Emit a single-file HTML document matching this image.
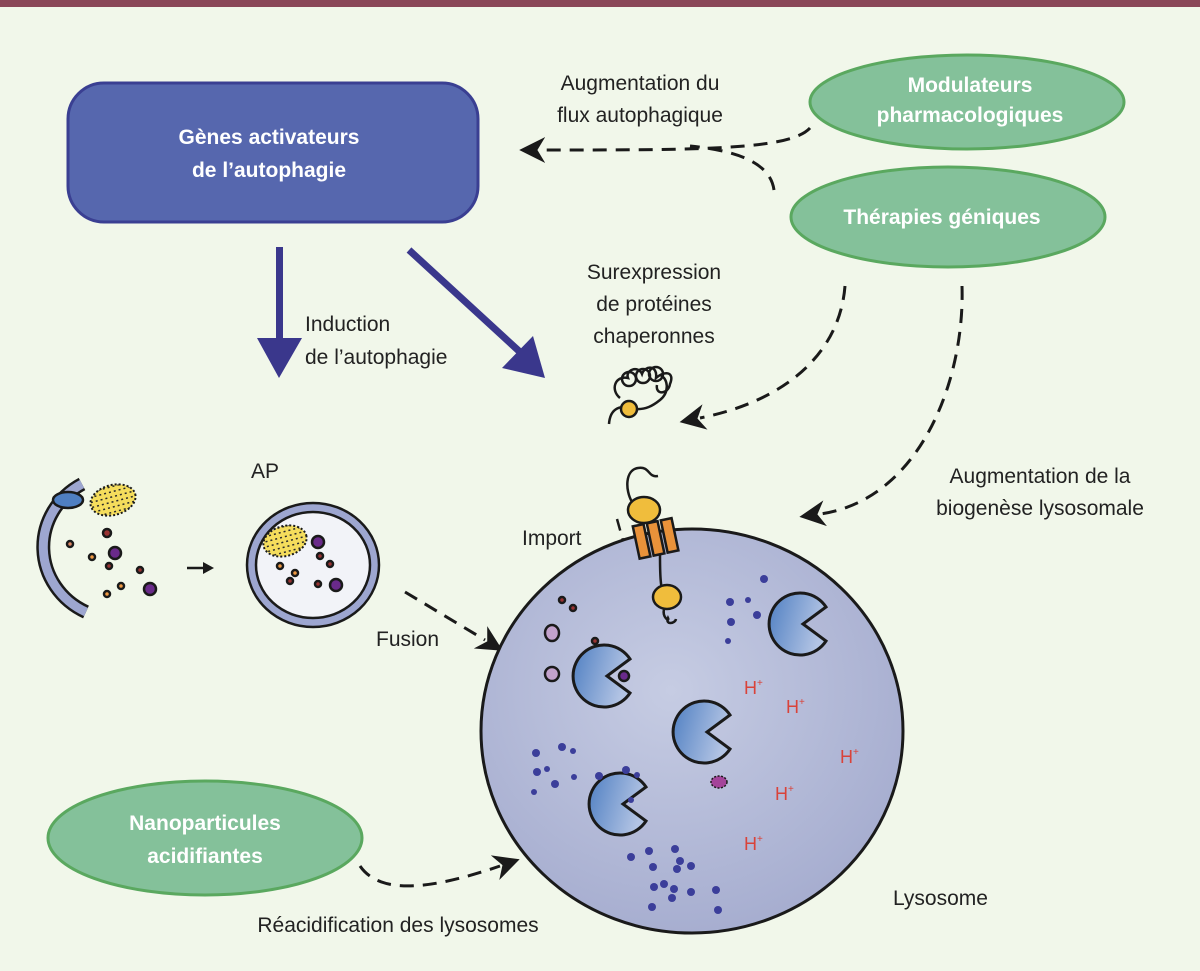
<!DOCTYPE html>
<html><head><meta charset="utf-8"><style>
html,body{margin:0;padding:0;background:#f1f7ea;}
svg{display:block}
text{font-family:"Liberation Sans",sans-serif;}
</style></head><body>
<svg width="1200" height="971" viewBox="0 0 1200 971" xmlns="http://www.w3.org/2000/svg">
<defs>
<radialGradient id="lys" cx="0.45" cy="0.4" r="0.6">
<stop offset="0" stop-color="#c6cce3"/><stop offset="1" stop-color="#a7aed0"/>
</radialGradient>
<linearGradient id="pac" x1="0" y1="0" x2="1" y2="0.3">
<stop offset="0" stop-color="#4f7fc2"/><stop offset="1" stop-color="#b3c4e4"/>
</linearGradient>
<g id="pm"><path d="M26,-17 A31,31 0 1 0 26,17 L3,0 Z" fill="url(#pac)" stroke="#1a1a1a" stroke-width="3" stroke-linejoin="miter"/></g>
<marker id="ahb" viewBox="0 0 10 10" refX="2" refY="5" markerWidth="26" markerHeight="26" orient="auto" markerUnits="userSpaceOnUse">
<path d="M0,0 L10,5 L0,10 L3,5 Z" fill="#1a1a1a"/></marker>
<pattern id="spk" width="5" height="5" patternUnits="userSpaceOnUse">
<rect width="5" height="5" fill="#f5dd5c"/><rect x="1" y="1" width="2" height="1.5" fill="#2a2a2a"/>
</pattern>
</defs>
<rect x="0" y="0" width="1200" height="7" fill="#8a4758"/>

<!-- Box -->
<rect x="68" y="83" width="410" height="139" rx="36" fill="#5667ae" stroke="#3a3f92" stroke-width="3"/>
<text x="269" y="144" font-size="21" font-weight="bold" fill="#fff" text-anchor="middle">Gènes activateurs</text>
<text x="269" y="177" font-size="21" font-weight="bold" fill="#fff" text-anchor="middle">de l’autophagie</text>

<!-- blue arrows -->
<rect x="276" y="247" width="7" height="95" fill="#3a378c"/>
<path d="M257,338 L302,338 L279,378 Z" fill="#3a378c"/>
<line x1="409" y1="250" x2="520" y2="352" stroke="#3a378c" stroke-width="7"/>
<path d="M502,368 L545,378 L533,336 Z" fill="#3a378c"/>
<text x="305" y="331" font-size="21" fill="#222">Induction</text>
<text x="305" y="364" font-size="21" fill="#222">de l’autophagie</text>

<!-- green ellipses -->
<ellipse cx="967" cy="102" rx="157" ry="47" fill="#84c19a" stroke="#5aa85f" stroke-width="3"/>
<text x="970" y="92" font-size="21" font-weight="bold" fill="#fff" text-anchor="middle">Modulateurs</text>
<text x="970" y="122" font-size="21" font-weight="bold" fill="#fff" text-anchor="middle">pharmacologiques</text>
<ellipse cx="948" cy="217" rx="157" ry="50" fill="#84c19a" stroke="#5aa85f" stroke-width="3"/>
<text x="942" y="224" font-size="21" font-weight="bold" fill="#fff" text-anchor="middle">Thérapies géniques</text>
<ellipse cx="205" cy="838" rx="157" ry="57" fill="#84c19a" stroke="#5aa85f" stroke-width="3"/>
<text x="205" y="830" font-size="21" font-weight="bold" fill="#fff" text-anchor="middle">Nanoparticules</text>
<text x="205" y="863" font-size="21" font-weight="bold" fill="#fff" text-anchor="middle">acidifiantes</text>

<!-- labels -->
<text x="640" y="90" font-size="21" fill="#222" text-anchor="middle">Augmentation du</text>
<text x="640" y="122" font-size="21" fill="#222" text-anchor="middle">flux autophagique</text>
<text x="654" y="279" font-size="21" fill="#222" text-anchor="middle">Surexpression</text>
<text x="654" y="311" font-size="21" fill="#222" text-anchor="middle">de protéines</text>
<text x="654" y="343" font-size="21" fill="#222" text-anchor="middle">chaperonnes</text>
<text x="1040" y="483" font-size="21" fill="#222" text-anchor="middle">Augmentation de la</text>
<text x="1040" y="515" font-size="21" fill="#222" text-anchor="middle">biogenèse lysosomale</text>
<text x="251" y="478" font-size="21" fill="#222">AP</text>
<text x="522" y="545" font-size="21" fill="#222">Import</text>
<text x="376" y="646" font-size="21" fill="#222">Fusion</text>
<text x="893" y="905" font-size="21" fill="#222">Lysosome</text>
<text x="398" y="932" font-size="21" fill="#222" text-anchor="middle">Réacidification des lysosomes</text>

<!-- dashed connectors -->
<g fill="none" stroke="#1a1a1a" stroke-width="3" stroke-dasharray="14,9">
<path d="M810,128 C790,150 700,150 540,150" marker-end="url(#ahb)"/>
<path d="M774,190 C770,160 730,150 690,146"/>
<path d="M845,286 C840,350 790,400 700,418" marker-end="url(#ahb)"/>
<path d="M962,286 C965,380 920,500 820,514" marker-end="url(#ahb)"/>
<path d="M360,866 C380,895 430,890 500,866" marker-end="url(#ahb)"/>
<path d="M405,592 L485,640" marker-end="url(#ahb)"/>
<path d="M617,519 L632,573" stroke-dasharray="12,8" stroke-width="2.5"/>
</g>
<path d="M625,575 L640,575 L634,586 Z" fill="#1a1a1a"/>

<!-- lysosome -->
<ellipse cx="692" cy="731" rx="211" ry="202" fill="url(#lys)" stroke="#1a1a1a" stroke-width="3"/>

<!-- transporter -->
<path d="M632,502 C625,490 625,470 638,468 C650,466 648,478 658,476" fill="none" stroke="#1a1a1a" stroke-width="2.5"/>
<path d="M665,600 C660,590 660,570 660,555" fill="none" stroke="#1a1a1a" stroke-width="2.5"/>
<ellipse cx="644" cy="510" rx="16" ry="13" fill="#f0bd3c" stroke="#1a1a1a" stroke-width="2.5"/>
<g fill="#e9923a" stroke="#1a1a1a" stroke-width="2.5">
<rect x="636" y="525" width="11" height="33" transform="rotate(-12 641 541)"/>
<rect x="650" y="522" width="11" height="33" transform="rotate(-12 655 538)"/>
<rect x="664" y="519" width="11" height="33" transform="rotate(-12 669 535)"/>
</g>
<ellipse cx="667" cy="597" rx="14" ry="12" fill="#f0bd3c" stroke="#1a1a1a" stroke-width="2.5"/>
<path d="M664,609 C662,618 670,622 668,618 C665,625 675,624 676,619" fill="none" stroke="#1a1a1a" stroke-width="2.5"/>

<!-- chaperone protein -->
<g fill="none" stroke="#1a1a1a" stroke-width="2.5">
<path d="M609,424 C610,410 618,405 630,408 C645,412 655,404 660,400 C670,392 668,378 660,375"/>
<path d="M620,398 C610,390 615,375 628,378 C625,370 638,365 642,374 C645,365 658,365 656,378 C665,370 675,372 670,384 C668,395 655,395 657,385"/>
<circle cx="629" cy="379" r="7"/><circle cx="643" cy="376" r="7"/><circle cx="656" cy="374" r="7"/>
</g>
<circle cx="629" cy="409" r="8" fill="#f0bd3c" stroke="#1a1a1a" stroke-width="2.5"/>

<!-- phagophore -->
<path d="M82,484 A75,72 0 0 0 86,612" fill="none" stroke="#1a1a1a" stroke-width="14"/>
<path d="M82,484 A75,72 0 0 0 86,612" fill="none" stroke="#9da6d0" stroke-width="9"/>
<ellipse cx="68" cy="500" rx="15" ry="8" fill="#4f7fc2" stroke="#1a1a1a" stroke-width="2.5"/>
<ellipse cx="113" cy="500" rx="23" ry="15" fill="url(#spk)" stroke="#1a1a1a" stroke-width="2" stroke-dasharray="2,2" transform="rotate(-15 113 500)"/>
<g stroke="#1a1a1a" stroke-width="2.5">
<circle cx="70" cy="544" r="3" fill="#d86"/><circle cx="92" cy="557" r="3" fill="#e94"/>
<circle cx="107" cy="533" r="4" fill="#933"/><circle cx="115" cy="553" r="6" fill="#6a2a8a"/>
<circle cx="109" cy="566" r="3" fill="#933"/><circle cx="140" cy="570" r="3" fill="#933"/>
<circle cx="121" cy="586" r="3" fill="#e94"/><circle cx="107" cy="594" r="3" fill="#e94"/>
<circle cx="150" cy="589" r="6" fill="#6a2a8a"/>
</g>
<path d="M187,568 L205,568" stroke="#1a1a1a" stroke-width="2.5"/>
<path d="M203,562 L214,568 L203,574 Z" fill="#1a1a1a"/>

<!-- autophagosome -->
<ellipse cx="313" cy="565" rx="66" ry="62" fill="#9da6d0" stroke="#1a1a1a" stroke-width="2.5"/>
<ellipse cx="313" cy="565" rx="57" ry="53" fill="#f2f3f8" stroke="#1a1a1a" stroke-width="2.5"/>
<ellipse cx="285" cy="541" rx="22" ry="15" fill="url(#spk)" stroke="#1a1a1a" stroke-width="2" stroke-dasharray="2,2" transform="rotate(-15 285 541)"/>
<g stroke="#1a1a1a" stroke-width="2.5">
<circle cx="318" cy="542" r="6" fill="#6a2a8a"/><circle cx="320" cy="556" r="3" fill="#933"/>
<circle cx="330" cy="564" r="3" fill="#933"/><circle cx="280" cy="566" r="3" fill="#e94"/>
<circle cx="295" cy="573" r="3" fill="#e94"/><circle cx="290" cy="581" r="3" fill="#933"/>
<circle cx="318" cy="584" r="3" fill="#933"/><circle cx="336" cy="585" r="6" fill="#6a2a8a"/>
</g>

<!-- lysosome contents -->
<g stroke="#1a1a1a" stroke-width="2.5">
<circle cx="562" cy="600" r="3" fill="#933"/><circle cx="573" cy="608" r="3" fill="#933"/>
<ellipse cx="552" cy="633" rx="7" ry="8" fill="#c3a2cc"/><ellipse cx="552" cy="674" rx="7" ry="7" fill="#c3a2cc"/>
<circle cx="595" cy="641" r="3" fill="#933"/><circle cx="624" cy="676" r="5" fill="#6a2a8a"/>
</g>
<use href="#pm" x="604" y="676"/>
<use href="#pm" x="800" y="624"/>
<use href="#pm" x="704" y="732"/>
<use href="#pm" x="620" y="804"/>
<ellipse cx="719" cy="782" rx="8" ry="6" fill="#a4449a" stroke="#1a1a1a" stroke-width="1.5" stroke-dasharray="2,1.5"/>
<g fill="#3b3e9a">
<circle cx="764" cy="579" r="4"/><circle cx="730" cy="602" r="4"/><circle cx="748" cy="600" r="3"/>
<circle cx="757" cy="615" r="4"/><circle cx="731" cy="622" r="4"/><circle cx="728" cy="641" r="3"/>
<circle cx="536" cy="753" r="4"/><circle cx="562" cy="747" r="4"/><circle cx="573" cy="751" r="3"/>
<circle cx="537" cy="772" r="4"/><circle cx="547" cy="769" r="3"/><circle cx="555" cy="784" r="4"/>
<circle cx="574" cy="777" r="3"/><circle cx="534" cy="792" r="3"/>
<circle cx="599" cy="776" r="4"/><circle cx="626" cy="770" r="4"/><circle cx="637" cy="775" r="3"/>
<circle cx="631" cy="800" r="3"/>
<circle cx="631" cy="857" r="4"/><circle cx="649" cy="851" r="4"/><circle cx="675" cy="849" r="4"/>
<circle cx="680" cy="861" r="4"/><circle cx="653" cy="867" r="4"/><circle cx="677" cy="869" r="4"/>
<circle cx="691" cy="866" r="4"/><circle cx="654" cy="887" r="4"/><circle cx="664" cy="884" r="4"/>
<circle cx="674" cy="889" r="4"/><circle cx="672" cy="898" r="4"/><circle cx="691" cy="892" r="4"/>
<circle cx="716" cy="890" r="4"/><circle cx="652" cy="907" r="4"/><circle cx="718" cy="910" r="4"/>
</g>
<g fill="#d9433a" font-size="18">
<text x="744" y="694">H<tspan font-size="10" dy="-8">+</tspan></text>
<text x="786" y="713">H<tspan font-size="10" dy="-8">+</tspan></text>
<text x="840" y="763">H<tspan font-size="10" dy="-8">+</tspan></text>
<text x="775" y="800">H<tspan font-size="10" dy="-8">+</tspan></text>
<text x="744" y="850">H<tspan font-size="10" dy="-8">+</tspan></text>
</g>
</svg>
</body></html>
